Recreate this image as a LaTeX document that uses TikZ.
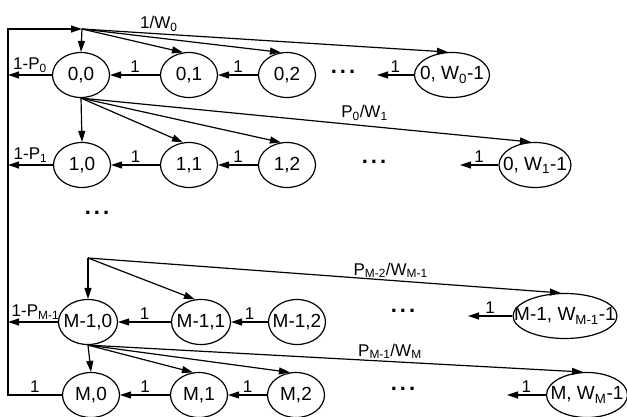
\documentclass[tikz,border=0pt]{standalone}
\usepackage{fontspec}
\setmainfont{Liberation Sans}
\usetikzlibrary{arrows.meta,shapes.geometric}

\tikzset{
  stage/.style={ellipse,draw,line width=1.2pt,inner xsep=-14pt,inner ysep=0pt,minimum width=57pt,minimum height=45pt,font=\fontsize{19}{22}\selectfont},
  lbl/.style={inner sep=2pt,font=\fontsize{17}{20}\selectfont},
  gap/.style={font=\fontsize{22}{24}\selectfont\bfseries},
  tr/.style={-{Triangle[length=11pt,width=7pt]},line width=1.2pt}
}
\newcommand\gapdots{.\hspace{3pt}.\hspace{3pt}.}

\begin{document}
\begin{tikzpicture}[x=1pt,y=-1pt]
\useasboundingbox (0,0) rectangle (627,417);

\coordinate (lt) at (8,29);
\coordinate (h0) at (82,29);
\coordinate (hc) at (88,258);
\coordinate (e0) at (377,75);
\coordinate (e1) at (460,165);
\coordinate (ec) at (468,316);
\coordinate (ed) at (507,395);

\node[stage] (a0) at (81,75) {0,0};
\node[stage] (a1) at (189,75) {0,1};
\node[stage] (a2) at (287,75) {0,2};
\node[stage,minimum width=75pt] (aw) at (452,75) {0, W\textsubscript{0}-1};
\node[gap] (g0) at (343,72) {\gapdots};

\node[stage] (b0) at (82,165) {1,0};
\node[stage] (b1) at (189,165) {1,1};
\node[stage] (b2) at (287,165) {1,2};
\node[stage,minimum width=72pt] (bw) at (535,165) {0, W\textsubscript{1}-1};
\node[gap] (g1) at (374,162) {\gapdots};

\node[gap] (gm) at (97,213) {\gapdots};

\node[stage,minimum width=59pt] (c0) at (88,322) {M-1,0};
\node[stage,minimum width=59pt] (c1) at (201,322) {M-1,1};
\node[stage,minimum width=57pt] (c2) at (297,322) {M-1,2};
\node[stage,minimum width=99pt] (cw) at (565,316) {M-1, W\textsubscript{M-1}-1};
\node[gap] (gc) at (403,311) {\gapdots};

\node[stage] (d0) at (91,395) {M,0};
\node[stage] (d1) at (199,395) {M,1};
\node[stage] (d2) at (296,395) {M,2};
\node[stage,minimum width=81pt] (dw) at (587,395) {M, W\textsubscript{M}-1};
\node[gap] (gd) at (403,389) {\gapdots};

\draw[tr] (h0) -- (a0.north);
\draw[tr] (h0) -- (a1.105);
\draw[tr] (h0) -- (a2.105);
\draw[tr] (h0) -- node[lbl,pos=0.21,above]{1/W\textsubscript{0}} (aw.100);
\draw[tr] (a0.west) -- node[lbl,pos=0.5,above]{1-P\textsubscript{0}} (a0.west -| lt);
\draw[tr] (a1) -- node[lbl,above]{1} (a0);
\draw[tr] (a2) -- node[lbl,above]{1} (a1);
\draw[tr] (aw) -- node[lbl,above]{1} (e0);

\draw[tr] (a0.south) -- (b0.north);
\draw[tr] (a0.south) -- (b1.105);
\draw[tr] (a0.south) -- (b2.105);
\draw[tr] (a0.south) -- node[lbl,pos=0.63,above=3pt]{P\textsubscript{0}/W\textsubscript{1}} (bw.100);
\draw[tr] (b0.west) -- node[lbl,pos=0.5,above]{1-P\textsubscript{1}} (b0.west -| lt);
\draw[tr] (b1) -- node[lbl,above]{1} (b0);
\draw[tr] (b2) -- node[lbl,above]{1} (b1);
\draw[tr] (bw) -- node[lbl,above]{1} (e1);

\draw[tr] (hc) -- (c0.north);
\draw[tr] (hc) -- (c1.105);
\draw[tr] (hc) -- node[lbl,pos=0.64,above]{P\textsubscript{M-2}/W\textsubscript{M-1}} (cw.100);
\draw[tr] (c0.west) -- node[lbl,pos=0.45,above]{1-P\textsubscript{M-1}} (c0.west -| lt);
\draw[tr] (c1) -- node[lbl,above]{1} (c0);
\draw[tr] (c2) -- node[lbl,above]{1} (c1);
\draw[tr] (cw) -- node[lbl,above]{1} (ec);

\draw[tr] (c0.south) -- (d0.north);
\draw[tr] (c0.south) -- (d1.105);
\draw[tr] (c0.south) -- (d2.105);
\draw[tr] (c0.south) -- node[lbl,pos=0.61,above]{P\textsubscript{M-1}/W\textsubscript{M}} (dw.100);
\draw[tr] (d1) -- node[lbl,above]{1} (d0);
\draw[tr] (d2) -- node[lbl,above]{1} (d1);
\draw[tr] (dw) -- node[lbl,above]{1} (ed);

\draw[tr] (d0.west) -- node[lbl,above]{1} (d0.west -| lt) -- (lt) -- (h0);
\end{tikzpicture}
\end{document}
